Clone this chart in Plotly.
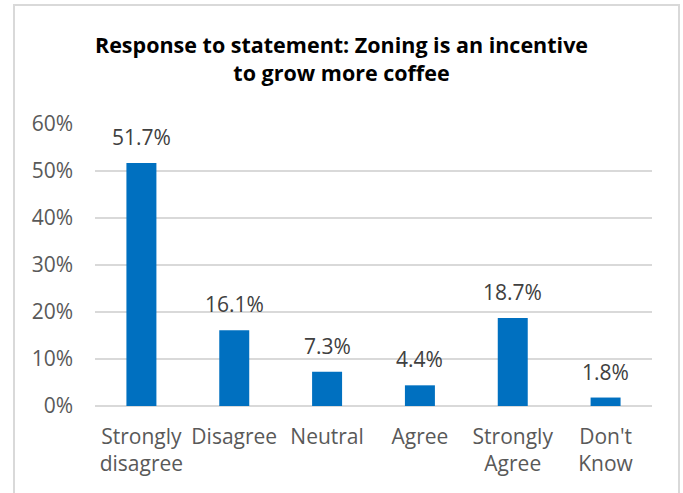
import plotly.graph_objects as go

categories = ["Strongly<br>disagree", "Disagree", "Neutral", "Agree", "Strongly<br>Agree", "Don't<br>Know"]
values = [51.7, 16.1, 7.3, 4.4, 18.7, 1.8]
labels = ["51.7%", "16.1%", "7.3%", "4.4%", "18.7%", "1.8%"]
tick_vals = [0, 10, 20, 30, 40, 50, 60]
tick_text = ["0%", "10%", "20%", "30%", "40%", "50%", "60%"]

FONT = "Open Sans, sans-serif"

fig = go.Figure(go.Bar(
    x=categories, y=values,
    marker=dict(color="#0070C0", line=dict(width=0)),
    width=0.323, cliponaxis=False,
))

annotations = [
    dict(x=c, y=v, text=t, xref="x", yref="y", showarrow=False,
         yanchor="bottom", xanchor="center", yshift=10,
         font=dict(family=FONT, size=21, color="#404040"))
    for c, v, t in zip(categories, values, labels)
]

fig.update_layout(
    width=683, height=493,
    margin=dict(l=95, r=31, t=124, b=87),
    paper_bgcolor="white", plot_bgcolor="white",
    showlegend=False,
    annotations=annotations,
    title=dict(
        text="<b>Response to statement: Zoning is an incentive<br>to grow more coffee</b>",
        x=0.5, xanchor="center", y=1 - 53 / 493, yanchor="middle",
        font=dict(family=FONT, size=21.5, color="black"),
    ),
    xaxis=dict(
        tickfont=dict(family=FONT, size=21, color="#595959"),
        showgrid=False, showline=False, ticks="", tickangle=0,
        ticklabelstandoff=16,
    ),
    yaxis=dict(
        range=[0, 60], tickvals=tick_vals, ticktext=tick_text,
        tickfont=dict(family=FONT, size=21, color="#595959"),
        showgrid=True, gridcolor="#D9D9D9", gridwidth=1.5,
        zeroline=True, zerolinecolor="#D9D9D9", zerolinewidth=1.5,
        showline=False, ticks="", ticklen=0, ticklabelstandoff=21,
    ),
    shapes=[dict(type="rect", xref="paper", yref="paper",
                 x0=-0.1454, x1=1.0485, y0=-0.5, y1=1.422,
                 line=dict(color="#D9D9D9", width=2), layer="below")],
)

fig.write_html("out.html", config={"displayModeBar": False},
               post_script="document.body.style.margin='0';document.body.style.overflow='hidden';")
